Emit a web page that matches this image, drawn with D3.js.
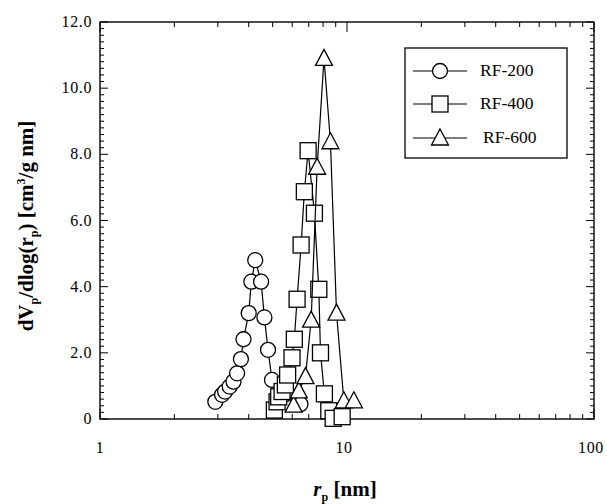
<!DOCTYPE html>
<html>
<head>
<meta charset="utf-8">
<script src="https://cdn.jsdelivr.net/npm/d3@7/dist/d3.min.js"></script>
<style>
  body { margin: 0; background: #fff; }
  svg { display: block; }
  text { font-family: "Liberation Serif", "DejaVu Serif", serif; fill: #000; }
</style>
</head>
<body>
<svg id="chart" width="607" height="504"></svg>
<script>
// Pore size distributions (r_p in nm, dV_p/dlog(r_p) in cm3/g nm)
const rf200R = [2.93, 3.12, 3.21, 3.35, 3.47, 3.59, 3.72, 3.81, 4.00, 4.10, 4.25, 4.49, 4.63, 4.79, 4.97, 5.63, 6.48];
const rf200V = [0.52, 0.73, 0.83, 0.98, 1.13, 1.38, 1.81, 2.41, 3.20, 4.15, 4.80, 4.15, 3.07, 2.09, 1.18, 0.75, 0.45];

const rf400R = [5.08, 5.21, 5.29, 5.46, 5.63, 5.75, 5.99, 6.12, 6.28, 6.52, 6.72, 6.96, 7.38, 7.69, 7.81, 8.10, 8.44, 8.79, 9.56];
const rf400V = [0.27, 0.52, 0.67, 0.83, 1.03, 1.33, 1.85, 2.41, 3.62, 5.26, 6.87, 8.11, 6.22, 3.92, 2.00, 0.76, 0.25, 0.02, 0.07];

const rf600R = [6.08, 6.38, 6.79, 7.16, 7.57, 8.07, 8.57, 9.07, 9.71, 10.66];
const rf600V = [0.42, 0.85, 1.28, 2.99, 7.61, 10.90, 8.38, 3.20, 0.55, 0.55];

const seriesNames = ["RF-200", "RF-400", "RF-600"];
const seriesSymbols = ["circle", "square", "triangle"];

const xDomain = [1, 100];
const yDomain = [0, 12];
const xTickLabels = [1, 10, 100];
const yTickValues = [0, 2, 4, 6, 8, 10, 12];

const svg = d3.select("#chart");
const m = { left: 100, right: 594, top: 22, bottom: 419 };

const x = d3.scaleLog().domain(xDomain).range([m.left, m.right]);
const y = d3.scaleLinear().domain(yDomain).range([m.bottom, m.top]);

// Frame
svg.append("rect")
  .attr("x", m.left).attr("y", m.top)
  .attr("width", m.right - m.left).attr("height", m.bottom - m.top)
  .attr("fill", "none").attr("stroke", "#000").attr("stroke-width", 1.4);

// Inward ticks on all four sides
const ticks = svg.append("g").attr("stroke", "#000").attr("stroke-width", 1);
const xMinor = [];
for (let d = 1; d < 100; d *= 10) for (let k = 2; k <= 9; k++) xMinor.push(d * k);
xMinor.forEach(v => {
  ticks.append("line").attr("x1", x(v)).attr("x2", x(v)).attr("y1", m.bottom).attr("y2", m.bottom - 5);
  ticks.append("line").attr("x1", x(v)).attr("x2", x(v)).attr("y1", m.top).attr("y2", m.top + 5);
});
xTickLabels.forEach(v => {
  ticks.append("line").attr("x1", x(v)).attr("x2", x(v)).attr("y1", m.bottom).attr("y2", m.bottom - 10);
  ticks.append("line").attr("x1", x(v)).attr("x2", x(v)).attr("y1", m.top).attr("y2", m.top + 10);
});
d3.range(0, 12.001, 0.2).forEach(v => {
  const major = Math.abs(v - Math.round(v / 2) * 2) < 1e-6;
  const len = major ? 8 : 4;
  ticks.append("line").attr("x1", m.left).attr("x2", m.left + len).attr("y1", y(v)).attr("y2", y(v));
  ticks.append("line").attr("x1", m.right).attr("x2", m.right - len).attr("y1", y(v)).attr("y2", y(v));
});

// Tick labels
svg.selectAll(".ylab").data(yTickValues).enter().append("text")
  .attr("x", 92).attr("y", d => y(d) + 5)
  .attr("text-anchor", "end").attr("font-size", 16).attr("letter-spacing", 0.6)
  .text(d => d === 0 ? "0" : d.toFixed(1));
svg.selectAll(".xlab").data(xTickLabels).enter().append("text")
  .attr("x", d => x(d) - (d === 1 ? 0 : 3)).attr("y", 453)
  .attr("text-anchor", "middle").attr("font-size", 16).attr("letter-spacing", 0.6)
  .text(d => d);

// Axis titles
const xt = svg.append("text").attr("x", 345).attr("y", 496)
  .attr("text-anchor", "middle").attr("font-size", 21).attr("font-weight", "bold");
xt.append("tspan").attr("font-style", "italic").text("r");
xt.append("tspan").attr("font-size", 12).attr("dy", 5).text("p");
xt.append("tspan").attr("dy", -5).text(" [nm]");

const yt = svg.append("text")
  .attr("transform", "translate(33,226) rotate(-90)")
  .attr("text-anchor", "middle").attr("font-size", 21).attr("font-weight", "bold");
yt.append("tspan").text("dV");
yt.append("tspan").attr("font-size", 12).attr("dy", 5).text("p");
yt.append("tspan").attr("dy", -5).text("/dlog(r");
yt.append("tspan").attr("font-size", 12).attr("dy", 5).text("p");
yt.append("tspan").attr("dy", -5).text(") [cm");
yt.append("tspan").attr("font-size", 12).attr("dy", -8).text("3");
yt.append("tspan").attr("dy", 8).text("/g nm]");

// Marker shapes
function drawSymbol(g, type, cx, cy) {
  if (type === "circle") {
    g.append("circle").attr("cx", cx).attr("cy", cy).attr("r", 7.5);
  } else if (type === "square") {
    g.append("rect").attr("x", cx - 8).attr("y", cy - 8).attr("width", 16).attr("height", 16);
  } else {
    g.append("path").attr("d", `M${cx},${cy - 9}L${cx + 8.5},${cy + 7}L${cx - 8.5},${cy + 7}Z`);
  }
}

const seriesData = [
  rf200R.map((r, i) => [r, rf200V[i]]),
  rf400R.map((r, i) => [r, rf400V[i]]),
  rf600R.map((r, i) => [r, rf600V[i]])
];

const line = d3.line().x(d => x(d[0])).y(d => y(d[1]));
seriesData.forEach((data, s) => {
  const g = svg.append("g");
  g.append("path").attr("d", line(data))
    .attr("fill", "none").attr("stroke", "#000").attr("stroke-width", 1.2);
  const mk = g.append("g").attr("fill", "#fff").attr("stroke", "#000").attr("stroke-width", 1.3);
  data.forEach(d => drawSymbol(mk, seriesSymbols[s], x(d[0]), y(d[1])));
});

// Legend
const lg = svg.append("g");
lg.append("rect").attr("x", 405).attr("y", 48).attr("width", 162).attr("height", 110)
  .attr("fill", "#fff").attr("stroke", "#000").attr("stroke-width", 1.3);
const rowsY = [71, 104, 138];
seriesNames.forEach((name, i) => {
  lg.append("line").attr("x1", 413).attr("x2", 467).attr("y1", rowsY[i]).attr("y2", rowsY[i])
    .attr("stroke", "#000").attr("stroke-width", 1.2);
  const mk = lg.append("g").attr("fill", "#fff").attr("stroke", "#000").attr("stroke-width", 1.3);
  drawSymbol(mk, seriesSymbols[i], 440, rowsY[i]);
  lg.append("text").attr("x", i === 2 ? 483 : 480).attr("y", rowsY[i] + 5)
    .attr("font-size", 17.5).text(name);
});
</script>
</body>
</html>
